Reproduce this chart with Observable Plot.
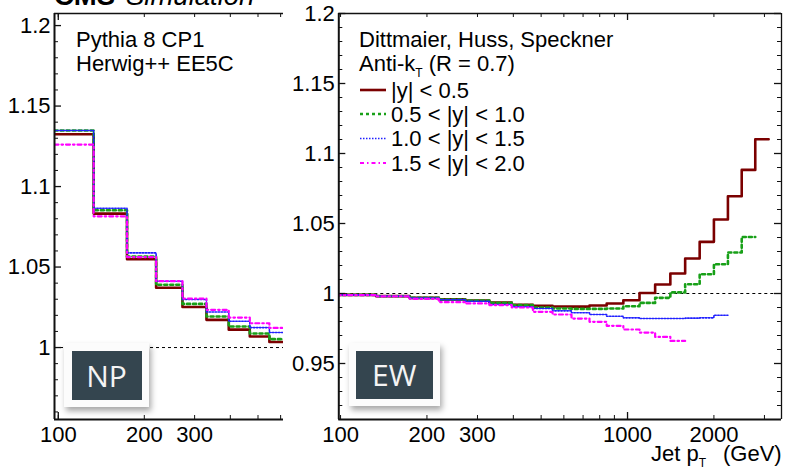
<!DOCTYPE html>
<html><head><meta charset="utf-8">
<script src="https://cdn.jsdelivr.net/npm/d3@7"></script>
<script src="https://cdn.jsdelivr.net/npm/@observablehq/plot@0.6"></script>
<style>
body{margin:0;background:#fff;}
#wrap{position:relative;width:785px;height:470px;overflow:hidden;font-family:"Liberation Sans",Arial,sans-serif;background:#fff;}
.panel{position:absolute;top:0;}
.badge{position:absolute;background:#fcfcfc;box-shadow:2px 4px 6px rgba(0,0,0,0.35);}
.badge div{position:absolute;left:7.5px;top:7.5px;right:7.5px;bottom:7.5px;background:#34454f;color:#f4f4f4;font-family:"Open Sans",sans-serif;font-size:30px;display:flex;align-items:center;justify-content:center;}
</style></head>
<body><div id="wrap"></div>
<script>
// ---- data ----
const binEdges = [97,133,174,220,272,330,395,468,548,638,737,846,967,1101,1248,1410,1588,1784,2000,2238,2500,2787,3103];
const seriesNames = ["|y| < 0.5", "0.5 < |y| < 1.0", "1.0 < |y| < 1.5", "1.5 < |y| < 2.0"];
const seriesColors = ["#7b0000", "#18a018", "#2020ff", "#ff00ff"];
// NP correction (left panel)
const npY05 = [1.1325,1.0832,1.0548,1.0371,1.0252,1.0172,1.0111,1.0069,1.0034];
const npY10 = [1.1348,1.0853,1.0565,1.0390,1.0271,1.0193,1.0131,1.0087,1.0052];
const npY15 = [1.1348,1.0865,1.0588,1.0412,1.0298,1.0221,1.0163,1.0124,1.0093];
const npY20 = [1.1261,1.0815,1.0562,1.0412,1.0304,1.0234,1.0186,1.0151,1.0122];
// EW correction (right panel)
const ewY05 = [0.9990,0.9981,0.9969,0.9958,0.9950,0.9936,0.9920,0.9912,0.9907,0.9906,0.9914,0.9929,0.9952,1.0004,1.0064,1.0143,1.0250,1.0369,1.0529,1.0695,1.0883,1.1102];
const ewY10 = [0.9990,0.9980,0.9969,0.9957,0.9949,0.9934,0.9917,0.9900,0.9893,0.9890,0.9890,0.9893,0.9909,0.9933,0.9969,1.0008,1.0066,1.0138,1.0209,1.0293,1.0404];
const ewY15 = [0.9990,0.9980,0.9968,0.9955,0.9945,0.9921,0.9905,0.9893,0.9876,0.9862,0.9850,0.9838,0.9826,0.9821,0.9821,0.9821,0.9824,0.9826,0.9845];
const ewY20 = [0.9988,0.9979,0.9962,0.9938,0.9929,0.9917,0.9900,0.9869,0.9850,0.9821,0.9798,0.9769,0.9743,0.9721,0.9690,0.9661];
// ticks
const npYLabels = [1, 1.05, 1.1, 1.15, 1.2];
const ewYLabels = [0.95, 1, 1.05, 1.1, 1.15, 1.2];
const npXLabels = [100, 200, 300];
const ewXLabels = [100, 200, 300, 1000, 2000];
const npXTicks = [100, 200, 300, 400, 500, 600];
const ewXTicks = [100, 200, 300, 400, 500, 600, 700, 800, 900, 1000, 2000, 3000];
const ewXMajor = [1000];
const npText = ["Pythia 8 CP1", "Herwig++ EE5C"];
const ewText = ["Dittmaier, Huss, Speckner"];

const styles = [
  {strokeWidth: 2.6, dash: null},
  {strokeWidth: 2.6, dash: "3,3"},
  {strokeWidth: 1.6, dash: "1.5,1.5"},
  {strokeWidth: 2.2, dash: "4,3,1.5,3"}
];

function steps(edges, vals) {
  const pts = vals.map((v, i) => ({x: edges[i], y: v}));
  pts.push({x: edges[vals.length], y: vals[vals.length - 1]});
  return pts;
}

function panel({width, mLeft, mRight, xDomain, yDomain, yLabels, xTicks, xMajor, xLabels, series, mirror}) {
  const H = 470, mTop = 13, mBottom = 51;
  const fw = width - mLeft - mRight, fh = H - mTop - mBottom;
  const minor = d3.range(Math.ceil(yDomain[0] * 100), Math.floor(yDomain[1] * 100) + 1).map(d => d / 100)
    .filter(v => !yLabels.some(l => Math.abs(l - v) < 1e-6));
  const marks = [
    Plot.ruleY([1], {stroke: "#000", strokeWidth: 1, strokeDasharray: "3,3"}),
    ...series.map((vals, i) => Plot.line(steps(binEdges, vals), {
      x: "x", y: "y", curve: "step-after", clip: true,
      stroke: seriesColors[i], strokeWidth: styles[i].strokeWidth,
      strokeDasharray: styles[i].dash
    })),
    Plot.ruleX([xDomain[0]], {stroke: "#111", strokeWidth: 2}),
    Plot.ruleY([yDomain[0]], {stroke: "#111", strokeWidth: 2}),
    Plot.ruleY([yDomain[1]], {stroke: "#111", strokeWidth: 1.3}),
    Plot.tickY(yLabels, {y: d => d, insetRight: fw - 7, stroke: "#111", strokeWidth: 1.3}),
    Plot.tickY(minor, {y: d => d, insetRight: fw - 4, stroke: "#111", strokeWidth: 1}),
    Plot.tickX(xTicks, {x: d => d, insetTop: fh - 4, stroke: "#111", strokeWidth: 1}),
    Plot.tickX(xTicks, {x: d => d, insetBottom: fh - 4, stroke: "#111", strokeWidth: 1}),
    Plot.tickX(xMajor, {x: d => d, insetTop: fh - 7, stroke: "#111", strokeWidth: 1.3}),
    Plot.tickX(xMajor, {x: d => d, insetBottom: fh - 7, stroke: "#111", strokeWidth: 1.3})
  ];
  if (mirror) {
    marks.push(
      Plot.ruleX([xDomain[1]], {stroke: "#111", strokeWidth: 1.3}),
      Plot.tickY(yLabels, {y: d => d, insetLeft: fw - 7, stroke: "#111", strokeWidth: 1.3}),
      Plot.tickY(minor, {y: d => d, insetLeft: fw - 4, stroke: "#111", strokeWidth: 1})
    );
  }
  return Plot.plot({
    width, height: H,
    marginLeft: mLeft, marginRight: mRight, marginTop: mTop, marginBottom: mBottom,
    style: {fontFamily: "'Liberation Sans', Arial, sans-serif", fontSize: "22px", color: "#000", background: "transparent", overflow: "visible"},
    x: {type: "log", domain: xDomain, ticks: xLabels, tickFormat: d => String(d), tickSize: 0, tickPadding: 7, label: null},
    y: {domain: yDomain, ticks: yLabels, tickFormat: d => String(d), tickSize: 0, tickPadding: 4, label: null},
    marks
  });
}

const wrap = document.getElementById("wrap");

const left = panel({
  width: 290, mLeft: 54, mRight: 7,
  xDomain: [97, 614], yDomain: [0.9553, 1.2075],
  yLabels: npYLabels, xTicks: npXTicks, xMajor: [100], xLabels: npXLabels,
  series: [npY05, npY10, npY15, npY20], mirror: false
});
left.classList.add("panel");
left.style.left = "0px";
wrap.appendChild(left);

const right = panel({
  width: 501, mLeft: 54.3, mRight: 4,
  xDomain: [98.6, 3440], yDomain: [0.91, 1.2],
  yLabels: ewYLabels, xTicks: ewXTicks, xMajor: ewXMajor, xLabels: ewXLabels,
  series: [ewY05, ewY10, ewY15, ewY20], mirror: true
});
right.classList.add("panel");
right.style.left = "284px";
wrap.appendChild(right);

// badges
function badge(text, l, t, w, h) {
  const b = document.createElement("div");
  b.className = "badge";
  Object.assign(b.style, {left: l + "px", top: t + "px", width: w + "px", height: h + "px"});
  const inner = document.createElement("div");
  inner.textContent = text;
  b.appendChild(inner);
  wrap.appendChild(b);
}
badge("NP", 64, 343, 85, 64);
badge("EW", 348.5, 343, 91.5, 63);

// text overlay
const NS = "http://www.w3.org/2000/svg";
const ov = document.createElementNS(NS, "svg");
ov.setAttribute("width", 785); ov.setAttribute("height", 470);
Object.assign(ov.style, {position: "absolute", left: "0", top: "0", pointerEvents: "none", overflow: "visible"});
ov.setAttribute("font-family", "'Liberation Sans', Arial, sans-serif");
ov.setAttribute("font-size", "22");
wrap.appendChild(ov);
function txt(x, y, s, attrs = {}) {
  const t = document.createElementNS(NS, "text");
  t.setAttribute("x", x); t.setAttribute("y", y);
  for (const k in attrs) t.setAttribute(k, attrs[k]);
  if (s != null) t.textContent = s;
  ov.appendChild(t);
  return t;
}
function tspan(parent, s, attrs = {}) {
  const t = document.createElementNS(NS, "tspan");
  for (const k in attrs) t.setAttribute(k, attrs[k]);
  t.textContent = s;
  parent.appendChild(t);
  return t;
}
txt(54, 5, "CMS", {"font-weight": "bold", "font-size": "27.5"});
txt(126, 5, "Simulation", {"font-style": "italic", "font-size": "27.5"});
npText.forEach((s, i) => txt(76, 47 + i * 23.5, s));
txt(359, 47, ewText[0]);
const ak = txt(359, 70.5, "Anti-k");
tspan(ak, "T", {"font-size": "12", dy: "6.5"});
tspan(ak, " (R = 0.7)", {dy: "-6.5"});
// legend
const rowY = [90, 114, 138.5, 163];
seriesNames.forEach((name, i) => {
  const ln = document.createElementNS(NS, "line");
  ln.setAttribute("x1", 360); ln.setAttribute("x2", 386);
  ln.setAttribute("y1", rowY[i]); ln.setAttribute("y2", rowY[i]);
  ln.setAttribute("stroke", seriesColors[i]);
  ln.setAttribute("stroke-width", styles[i].strokeWidth);
  if (styles[i].dash) ln.setAttribute("stroke-dasharray", styles[i].dash);
  ov.appendChild(ln);
  txt(391, rowY[i] + 7.5, name);
});
// x-axis title
const jt = txt(651, 460.5, "Jet p");
tspan(jt, "T", {"font-size": "12", dy: "6"});
txt(723, 460.5, "(GeV)");
</script>
</body></html>
